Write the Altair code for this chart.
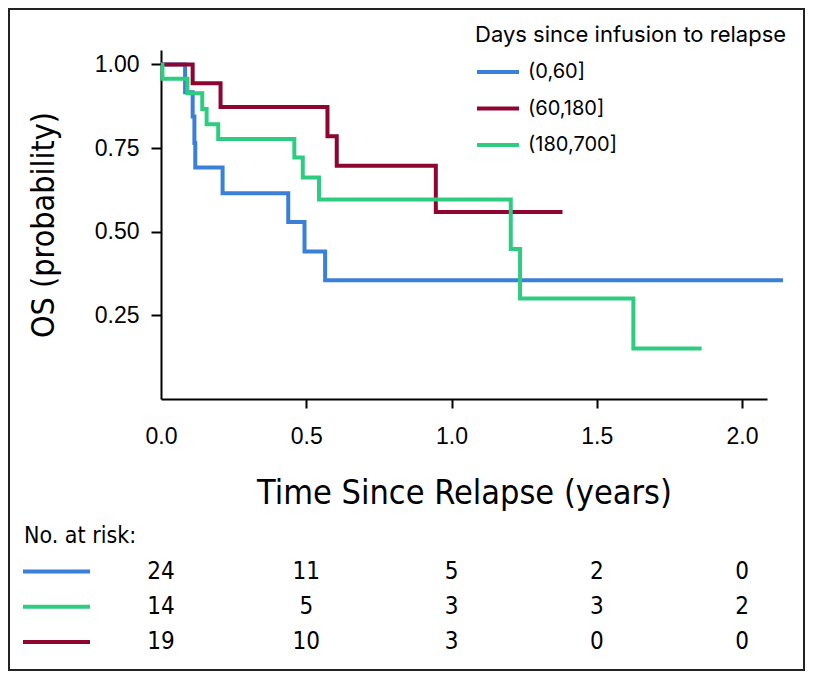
import altair as alt
import pandas as pd

# ---------------- data ----------------
groups = ["(0,60]", "(60,180]", "(180,700]"]
colors = ["#3A7FD8", "#8E0530", "#2ECC80"]

blue_time = [0, 0.083, 0.109, 0.115, 0.118, 0.212, 0.438, 0.494, 0.565, 2.141]
blue_surv = [1.0, 0.917, 0.844, 0.765, 0.692, 0.615, 0.529, 0.441, 0.355, 0.355]

red_time = [0, 0.109, 0.205, 0.573, 0.605, 0.946, 1.382]
red_surv = [1.0, 0.944, 0.873, 0.785, 0.697, 0.559, 0.559]

green_time = [0, 0.005, 0.091, 0.142, 0.157, 0.197, 0.459, 0.488, 0.544,
              1.204, 1.236, 1.626, 1.861]
green_surv = [1.0, 0.957, 0.914, 0.867, 0.821, 0.777, 0.722, 0.662, 0.596,
              0.448, 0.300, 0.151, 0.151]

risk_times = [0.0, 0.5, 1.0, 1.5, 2.0]
risk_rows = ["(0,60]", "(180,700]", "(60,180]"]
risk_blue = [24, 11, 5, 2, 0]
risk_green = [14, 5, 3, 3, 2]
risk_red = [19, 10, 3, 0, 0]

x_ticks = [0.0, 0.5, 1.0, 1.5, 2.0]
y_ticks = [0.25, 0.50, 0.75, 1.00]

# ---------------- tables ----------------
curves = pd.concat([
    pd.DataFrame({"group": groups[0], "time": blue_time, "surv": blue_surv}),
    pd.DataFrame({"group": groups[1], "time": red_time, "surv": red_surv}),
    pd.DataFrame({"group": groups[2], "time": green_time, "surv": green_surv}),
], ignore_index=True)

risk = pd.concat([
    pd.DataFrame({"group": groups[0], "time": risk_times, "n": risk_blue}),
    pd.DataFrame({"group": groups[2], "time": risk_times, "n": risk_green}),
    pd.DataFrame({"group": groups[1], "time": risk_times, "n": risk_red}),
], ignore_index=True)

swatches = pd.DataFrame({"group": risk_rows})
risk_label = pd.DataFrame({"t": ["No. at risk:"]})
frame = pd.DataFrame({"k": [1]})

NARROW = "Liberation Sans Narrow, DejaVu Sans Condensed, sans-serif"
REG = "Liberation Sans, Arial, sans-serif"
LEG = "Inter, Liberation Sans, sans-serif"

xscale = alt.Scale(domain=[0, 2.086], nice=False, zero=False)
yscale = alt.Scale(domain=[0, 1.043], nice=False)
cscale = alt.Scale(domain=groups, range=colors)
rowscale = alt.Scale(type="point", domain=risk_rows, range=[521.5, 592], padding=0)

x_axis = alt.Axis(
    values=x_ticks, format=".1f", grid=False, labelFlush=False,
    labelFont=REG, labelFontSize=23, labelColor="black",
    labelBaseline="alphabetic", labelPadding=35,
    tickSize=9, tickWidth=2, tickColor="black",
    tickOpacity={"condition": {"test": "datum.value == 0", "value": 0}, "value": 1},
    domainColor="black", domainWidth=2,
    title="Time Since Relapse (years)", titleFont=NARROW, titleFontSize=34,
    titleFontWeight="normal", titleColor="black",
    titleY=104, titleBaseline="alphabetic",
)
y_axis = alt.Axis(
    values=y_ticks, format=".2f", grid=False, labelFlush=False,
    labelFont=REG, labelFontSize=23, labelColor="black", labelPadding=12,
    tickSize=10, tickWidth=2, tickColor="black",
    domainColor="black", domainWidth=2,
    title="OS (probability)", titleFont=NARROW, titleFontSize=32,
    titleFontWeight="normal", titleColor="black",
    titleX=-108, titleBaseline="alphabetic",
)
legend = alt.Legend(
    title="Days since infusion to relapse", orient="none",
    legendX=314, legendY=-25, padding=0, titleLimit=500, labelLimit=300,
    titleFont=LEG, titleFontSize=22, titleFontWeight="normal",
    titleColor="black", titlePadding=2,
    labelFont=LEG, labelFontSize=20, labelColor="black", labelOffset=7,
    symbolType="stroke", symbolStrokeWidth=4, symbolSize=1764,
    rowPadding=3.5,
)

lines = alt.Chart(curves).mark_line(
    interpolate="step-after", strokeWidth=4, clip=False
).encode(
    x=alt.X("time:Q", scale=xscale, axis=x_axis),
    y=alt.Y("surv:Q", scale=yscale, axis=y_axis),
    color=alt.Color("group:N", scale=cscale, legend=legend),
)

numbers = alt.Chart(risk).mark_text(
    font=NARROW, fontSize=24, color="black", align="center", baseline="middle"
).encode(
    x=alt.X("time:Q", scale=xscale),
    y=alt.Y("group:N", scale=rowscale, axis=None),
    text="n:Q",
)

swatch = alt.Chart(swatches).mark_rule(strokeWidth=4).encode(
    x=alt.value(-138), x2=alt.value(-71),
    y=alt.Y("group:N", scale=rowscale, axis=None),
    color=alt.Color("group:N", scale=cscale),
)

label = alt.Chart(risk_label).mark_text(
    font=NARROW, fontSize=23, color="black", align="left", baseline="alphabetic"
).encode(
    x=alt.value(-137), y=alt.value(493), text="t:N",
)

border = alt.Chart(frame).mark_rect(
    fill="transparent", stroke="#222222", strokeWidth=2
).encode(
    x=alt.value(-152), x2=alt.value(643),
    y=alt.value(-41), y2=alt.value(620),
)

chart = alt.layer(border, lines, numbers, swatch, label).resolve_scale(
    y="independent"
).properties(
    width=606, height=349,
    autosize=alt.AutoSizeParams(type="none"),
    padding={"left": 153, "top": 42, "right": 38, "bottom": 272},
).configure_view(strokeWidth=0)

chart.save("out.html", embed_options={"renderer": "svg", "actions": False})
